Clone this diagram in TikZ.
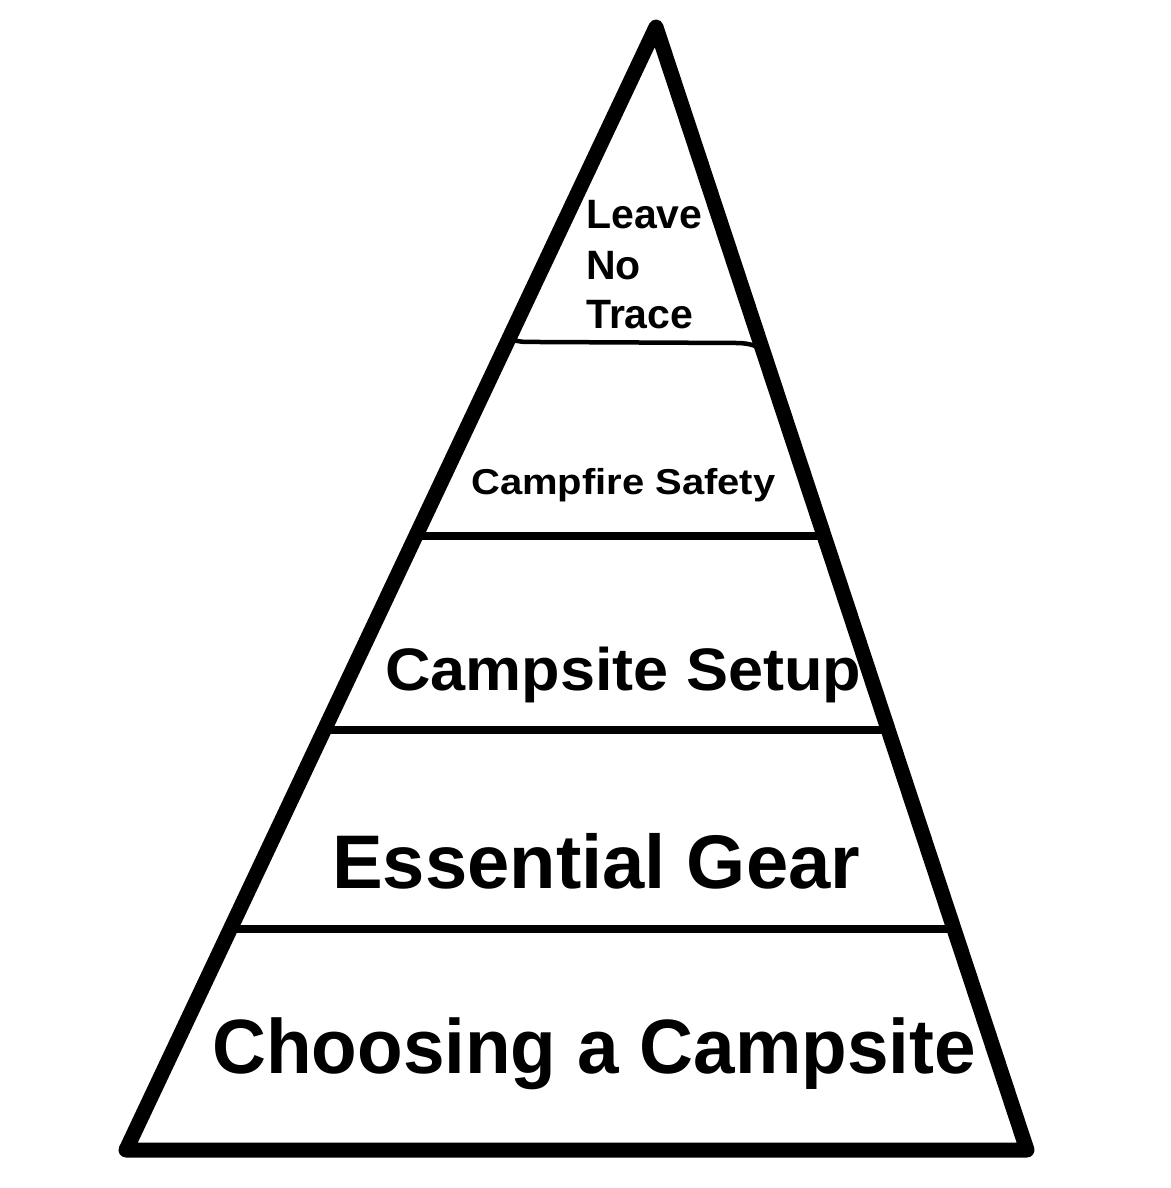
\documentclass[tikz,border=0pt]{standalone}
\usepackage{fontspec}
\usepackage{graphicx}
\setmainfont{Liberation Sans}
\usetikzlibrary{calc}
\begin{document}
\begin{tikzpicture}[x=1pt,y=-1pt,
  outline/.style={line width=15pt, line join=round, line cap=round},
  divider/.style={line width=8pt},
  thindiv/.style={line width=4.5pt},
  lbl/.style={inner sep=0pt, anchor=base west}]
\useasboundingbox[fill=white] (0,0) rectangle (1170,1188);
\coordinate (A) at (656,27);
\coordinate (BL) at (126,1150);
\coordinate (BR) at (1027,1150);
\coordinate (L1) at ($(A)!0.2778!(BL)$);
\coordinate (R1) at ($(A)!0.2885!(BR)$);
\coordinate (L2) at ($(A)!0.4533!(BL)$);
\coordinate (R2) at ($(A)!0.4533!(BR)$);
\coordinate (L3) at ($(A)!0.6260!(BL)$);
\coordinate (R3) at ($(A)!0.6260!(BR)$);
\coordinate (L4) at ($(A)!0.8032!(BL)$);
\coordinate (R4) at ($(A)!0.8032!(BR)$);
% dividers
\draw[thindiv] (L1) .. controls ($(L1)+(12,3)$) .. ($(L1)+(26,3)$) -- ($(R1)+(-28,-8)$) .. controls ($(R1)+(-10,-8)$) and ($(R1)+(-6,-4)$) .. ($(R1)+(4,1)$);
\draw[divider] (L2) -- (R2);
\draw[divider] (L3) -- (R3);
\draw[divider] (L4) -- (R4);
% outline
\draw[outline] (A) -- (BL) -- (BR) -- cycle;
% labels
\node[lbl, font={\fontsize{41}{48}\selectfont\bfseries}] (leave) at (586,228) {Leave};
\node[lbl, font={\fontsize{41}{48}\selectfont\bfseries}] (no) at (586,279) {No};
\node[lbl, font={\fontsize{41}{48}\selectfont\bfseries}] (trace) at (586,328) {Trace};
\node[lbl, font={\fontsize{36}{42}\selectfont\bfseries}] (fire) at (471,494) {\scalebox{1.11}[1]{Campfire Safety}};
\node[lbl, font={\fontsize{60}{70}\selectfont\bfseries}] (setup) at (385,690) {\scalebox{1.05}[1]{Campsite Setup}};
\node[lbl, font={\fontsize{76}{88}\selectfont\bfseries}] (gear) at (332,888) {Essential Gear};
\node[lbl, font={\fontsize{77}{90}\selectfont\bfseries}] (choose) at (212,1073) {\scalebox{0.97}[1]{Choosing a Campsite}};
\end{tikzpicture}
\end{document}
